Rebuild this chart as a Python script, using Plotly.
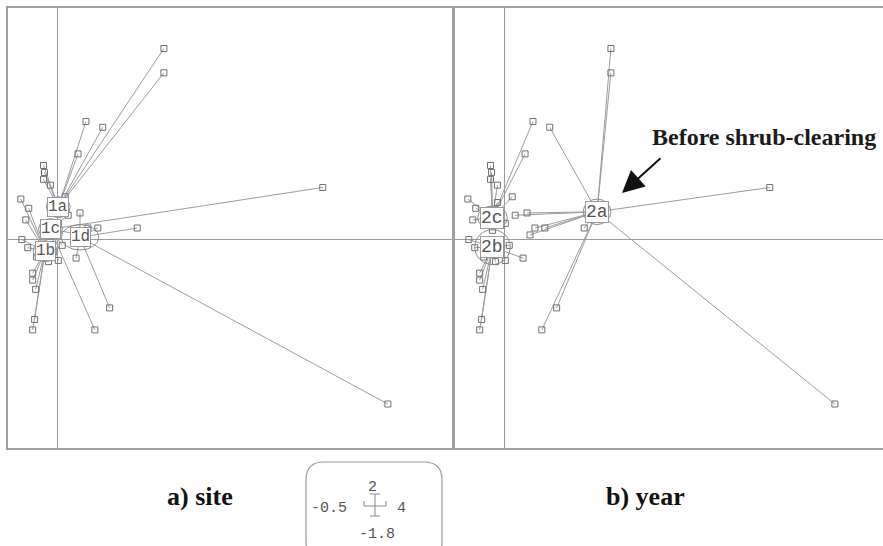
import plotly.graph_objects as go

# ---------------- data ----------------
pt_x = [1.08, 1.08, 0.29, 0.46, 0.21, 2.69, 3.35, 0.81, 0.53, 0.38,
        -0.25, -0.23, -0.25, -0.25, -0.22, 0.01, 0.19, -0.21, -0.14, -0.13,
        -0.14, -0.37, -0.29, -0.32, 0.08, -0.07, 0.23, 0.11, 0.31, 0.41,
        0.26, 0.01, -0.36, -0.30, -0.18, -0.09, -0.12, 0.05, -0.07]
pt_y = [1.65, 1.44, 1.02, 0.97, 0.74, 0.45, -1.42, 0.10, -0.59, -0.78,
        -0.78, -0.69, -0.29, -0.35, -0.43, -0.18, -0.16, -0.15, 0.64, 0.58,
        0.52, 0.35, 0.27, 0.17, 0.37, 0.32, 0.23, 0.21, 0.10, 0.10,
        0.04, 0.14, 0.00, -0.07, -0.08, -0.19, 0.08, -0.05, 0.47]
site = ["1a", "1a", "1a", "1a", "1a", "1c", "1d", "1d", "1d", "1c",
        "1b", "1b", "1b", "1b", "1b", "1c", "1d", "1b", "1a", "1a",
        "1a", "1b", "1b", "1b", "1a", "1a", "1d", "1c", "1d", "1d",
        "1c", "1c", "1b", "1b", "1b", "1b", "1c", "1c", "1a"]
year = ["2a", "2a", "2c", "2a", "2c", "2a", "2a", "2a", "2a", "2a",
        "2b", "2b", "2b", "2b", "2b", "2b", "2b", "2b", "2c", "2c",
        "2c", "2c", "2c", "2c", "2c", "2c", "2a", "2a", "2a", "2a",
        "2a", "2c", "2b", "2b", "2b", "2b", "2c", "2b", "2c"]

site_names = ["1a", "1b", "1c", "1d"]
site_cx = [0.01, -0.125, -0.07, 0.23]
site_cy = [0.28, -0.10, 0.09, 0.02]
site_rx = [0.12, 0.12, 0.12, 0.19]
site_ry = [0.09, 0.09, 0.09, 0.11]

year_names = ["2c", "2b", "2a"]
year_cx = [-0.12, -0.12, 0.94]
year_cy = [0.19, -0.065, 0.24]
year_rx = [0.15, 0.18, 0.14]
year_ry = [0.10, 0.15, 0.11]

xlim = [-0.5, 4]
ylim = [-1.8, 2]

panel_titles = ["a) site", "b) year"]
note_text = "Before shrub-clearing"

# ---------------- layout helpers ----------------
W, H = 883, 546
def PX(px):
    return px / W
def PY(py):
    return 1 - py / H

left_px = (8, 452)
right_px0 = 455
top_py, bot_py = 8, 448
ppu = (left_px[1] - left_px[0]) / (xlim[1] - xlim[0])
x2max = xlim[0] + (W - right_px0) / ppu

fig = go.Figure()
LINE = "#9c9c9c"
MARK = "#707070"

shapes = []
annotations = []

def panel(xa, ya, groups, names, cx, cy, rx, ry, fsize):
    lx, ly = [], []
    for i, g in enumerate(groups):
        k = names.index(g)
        lx += [cx[k], pt_x[i], None]
        ly += [cy[k], pt_y[i], None]
    fig.add_trace(go.Scatter(x=lx, y=ly, mode="lines",
                             line=dict(color=LINE, width=1),
                             xaxis=xa, yaxis=ya, hoverinfo="skip", showlegend=False))
    fig.add_trace(go.Scatter(x=pt_x, y=pt_y, mode="markers",
                             marker=dict(symbol="square-open", size=6, color=MARK,
                                         line=dict(width=1)),
                             xaxis=xa, yaxis=ya, hoverinfo="skip", showlegend=False))
    for k, n in enumerate(names):
        shapes.append(dict(type="circle", xref=xa, yref=ya,
                           x0=cx[k] - rx[k], x1=cx[k] + rx[k],
                           y0=cy[k] - ry[k], y1=cy[k] + ry[k],
                           line=dict(color="#8a8a8a", width=1)))
        annotations.append(dict(x=cx[k], y=cy[k], xref=xa, yref=ya, text=n,
                                showarrow=False, xanchor="center", yanchor="middle",
                                bgcolor="white",
                                bordercolor="#9a9a9a", borderwidth=1, borderpad=0,
                                font=dict(family="Liberation Mono", size=fsize, color="#555")))

panel("x", "y", site, site_names, site_cx, site_cy, site_rx, site_ry, 16)
panel("x2", "y2", year, year_names, year_cx, year_cy, year_rx, year_ry, 18)

axis_common = dict(showgrid=False, zeroline=True, zerolinecolor="#9a9a9a",
                   zerolinewidth=1, showticklabels=False, ticks="",
                   showline=True, linecolor="#a0a0a0", linewidth=2)

ydom = [1 - bot_py / H, 1 - top_py / H]
fig.update_layout(
    width=W, height=H, margin=dict(l=0, r=0, t=0, b=0),
    paper_bgcolor="white", plot_bgcolor="white", showlegend=False,
    xaxis=dict(domain=[PX(left_px[0]), PX(left_px[1])], range=xlim, mirror=True, **axis_common),
    yaxis=dict(domain=ydom, range=ylim, mirror=True, **axis_common),
    xaxis2=dict(domain=[PX(right_px0), 1], range=[xlim[0], x2max], anchor="y2", mirror=True, **axis_common),
    yaxis2=dict(domain=ydom, range=ylim, anchor="x2", mirror=False, **axis_common),
)

# panel titles
for t, cxp in zip(panel_titles, [200, 645]):
    annotations.append(dict(x=PX(cxp), y=PY(496), xref="paper", yref="paper",
                            text="<b>%s</b>" % t, showarrow=False,
                            xanchor="center", yanchor="middle",
                            font=dict(family="Liberation Serif", size=26, color="#111")))

# note + arrow
annotations.append(dict(x=PX(764), y=PY(137), xref="paper", yref="paper",
                        text="<b>%s</b>" % note_text, showarrow=False,
                        xanchor="center", yanchor="middle",
                        font=dict(family="Liberation Serif", size=24, color="#1a1a1a")))
annotations.append(dict(x=PX(622), y=PY(193), xref="paper", yref="paper", text="",
                        showarrow=True, ax=40, ay=-36, arrowhead=2, arrowsize=2.2,
                        arrowwidth=2, arrowcolor="#111"))

# scale box (rounded rectangle)
bx0, by0, bx1, by1, r = 306, 462, 442, 560, 18
def P(px, py):
    return "%.5f,%.5f" % (PX(px), PY(py))
path = ("M " + P(bx0 + r, by0) + " L " + P(bx1 - r, by0) +
        " Q " + P(bx1, by0) + " " + P(bx1, by0 + r) +
        " L " + P(bx1, by1 - r) + " Q " + P(bx1, by1) + " " + P(bx1 - r, by1) +
        " L " + P(bx0 + r, by1) + " Q " + P(bx0, by1) + " " + P(bx0, by1 - r) +
        " L " + P(bx0, by0 + r) + " Q " + P(bx0, by0) + " " + P(bx0 + r, by0) + " Z")
shapes.append(dict(type="path", xref="paper", yref="paper", path=path,
                   line=dict(color="#999", width=1.2)))

fmt = lambda v: ("%g" % v)
sfont = dict(family="Liberation Mono", size=15, color="#555")
ccx, ccy = 375, 506
annotations += [
    dict(x=PX(ccx - 3), y=PY(487), xref="paper", yref="paper", text=fmt(ylim[1]),
         showarrow=False, xanchor="center", yanchor="middle", font=sfont),
    dict(x=PX(ccx - 26), y=PY(ccy + 2), xref="paper", yref="paper", text=fmt(xlim[0]),
         showarrow=False, xanchor="right", yanchor="middle", font=sfont),
    dict(x=PX(ccx + 20), y=PY(ccy + 2), xref="paper", yref="paper", text=fmt(xlim[1]),
         showarrow=False, xanchor="left", yanchor="middle", font=sfont),
    dict(x=PX(ccx + 2), y=PY(534), xref="paper", yref="paper", text=fmt(ylim[0]),
         showarrow=False, xanchor="center", yanchor="middle", font=sfont),
]
cross = [((ccx, 494), (ccx, 516)), ((ccx - 11, ccy), (ccx + 11, ccy)),
         ((ccx - 11, ccy - 5), (ccx - 11, ccy)), ((ccx + 11, ccy - 5), (ccx + 11, ccy)),
         ((ccx - 5, 494), (ccx + 5, 494)), ((ccx - 5, 516), (ccx + 5, 516))]
for (a, b) in cross:
    shapes.append(dict(type="line", xref="paper", yref="paper",
                       x0=PX(a[0]), y0=PY(a[1]), x1=PX(b[0]), y1=PY(b[1]),
                       line=dict(color="#888", width=1)))

fig.update_layout(shapes=shapes, annotations=annotations)
fig.write_html("out.html", config={"displayModeBar": False},
               post_script="document.body.style.margin='0';document.body.style.overflow='hidden';")
